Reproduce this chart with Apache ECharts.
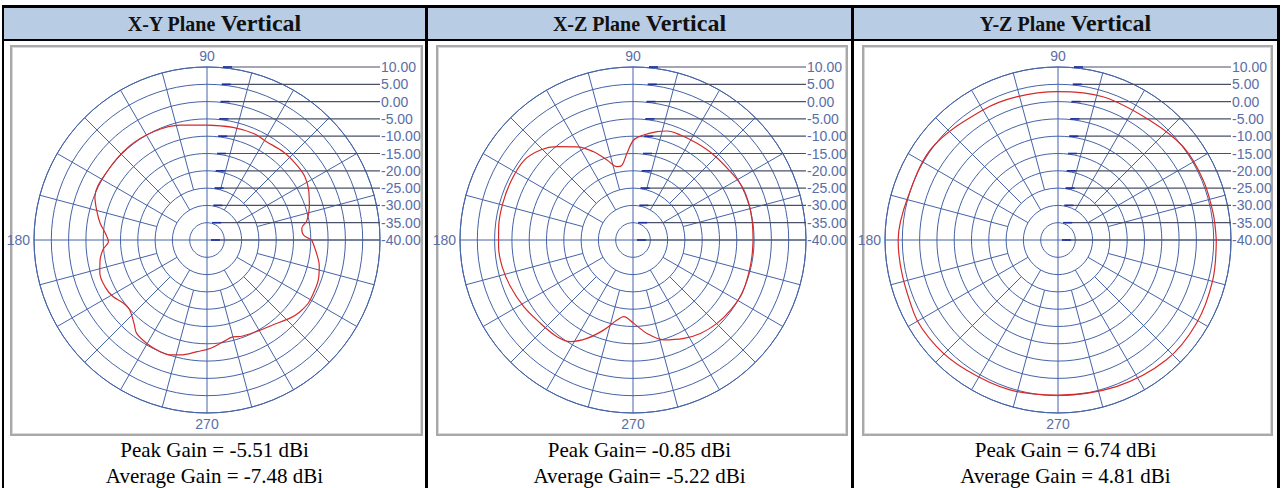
<!DOCTYPE html>
<html><head><meta charset="utf-8">
<script src="https://cdn.jsdelivr.net/npm/echarts@6/dist/echarts.min.js"></script>
<style>
html,body{margin:0;padding:0;background:#fff;}
body{width:1281px;height:488px;position:relative;overflow:hidden;}
.b{position:absolute;background:#000;}
.serif{font-family:'Liberation Serif','Times New Roman',Times,Tinos,'DejaVu Serif','Noto Serif',serif;}
.hdr{position:absolute;top:8px;height:31px;background:#b8cce4;font-weight:bold;text-align:center;line-height:31px;color:#111;font-size:24px;white-space:nowrap;}
.hdr .s{font-size:20px}
.frame{position:absolute;top:45px;height:387px;border:2px solid #a9a9a9;box-shadow:inset 0 0 0 1px #d8d8d8;background:#fff;}
.cap{position:absolute;top:437px;font-size:21px;line-height:26px;text-align:center;color:#000;white-space:nowrap;}
#chart{position:absolute;left:0;top:0;width:1281px;height:488px;}
</style></head>
<body>
<div class="b" style="left:2px;top:5px;width:1278px;height:3px"></div>
<div class="b" style="left:2px;top:39px;width:1278px;height:2px"></div>
<div class="b" style="left:2px;top:5px;width:2px;height:483px"></div>
<div class="b" style="left:425px;top:5px;width:3px;height:483px"></div>
<div class="b" style="left:851px;top:5px;width:3px;height:483px"></div>
<div class="b" style="left:1277px;top:5px;width:3px;height:483px"></div>
<div class="hdr serif" style="left:4px;width:421px"><span class="s">X-Y Plane</span> Vertical</div>
<div class="hdr serif" style="left:428px;width:423px"><span class="s">X-Z Plane</span> Vertical</div>
<div class="hdr serif" style="left:854px;width:423px"><span class="s">Y-Z Plane</span> Vertical</div>
<div class="frame" style="left:10px;width:409px"></div>
<div class="frame" style="left:436px;width:408px"></div>
<div class="frame" style="left:862px;width:407px"></div>
<div class="cap serif" style="left:4px;width:421px">Peak Gain = -5.51 dBi<br>Average Gain = -7.48 dBi</div>
<div class="cap serif" style="left:428px;width:423px">Peak Gain= -0.85 dBi<br>Average Gain= -5.22 dBi</div>
<div class="cap serif" style="left:854px;width:423px">Peak Gain = 6.74 dBi<br>Average Gain = 4.81 dBi</div>
<div id="chart"></div>
<script>
// ---- data ----
const ringValues = [10, 5, 0, -5, -10, -15, -20, -25, -30, -35, -40];
const ringLabels = ['10.00', '5.00', '0.00', '-5.00', '-10.00', '-15.00', '-20.00', '-25.00', '-30.00', '-35.00', '-40.00'];
const angleLabels = {90: '90', 180: '180', 270: '270'};

const xyAngle = [0, 3, 7, 11, 18, 26, 33, 40, 49, 59, 66, 77, 90, 103, 116, 130, 146, 159, 165, 171, 176, 181, 185, 191, 197, 205, 211, 217, 222, 229, 233, 240, 247, 252, 257, 265, 272, 279, 285, 289, 299, 308, 317, 322, 328, 333, 340, 347, 353, 360];
const xyGain = [-9.7, -12.1, -12.4, -10.6, -8.9, -7.3, -6.3, -6.2, -6.3, -6.8, -6.4, -6.6, -6.8, -5.9, -5.1, -4.8, -5.0, -5.3, -7.0, -8.7, -10.5, -11.5, -9.9, -8.5, -7.6, -7.6, -8.3, -9.7, -9.9, -7.9, -6.2, -5.4, -5.0, -5.1, -5.9, -7.6, -8.7, -10.2, -11.0, -10.5, -9.9, -8.9, -7.0, -6.1, -5.5, -5.6, -5.8, -6.7, -8.1, -9.7];

const xzAngle = [0, 9.5, 17.6, 26.1, 35.1, 46.5, 56.5, 65.7, 72.7, 77.5, 84.2, 89.6, 94, 98.3, 102.3, 108, 114, 121, 129.2, 135.8, 143.8, 153.9, 164.4, 174.3, 182.8, 191.5, 200.8, 211.4, 221.9, 231.8, 238.3, 244.9, 251.9, 258.7, 263.1, 270.5, 278.5, 287.1, 297.3, 305.8, 315.2, 324.3, 333.9, 343.9, 352, 360];
const xzGain = [-5.3, -5.1, -4.9, -4.9, -5.6, -6.1, -6.5, -6.7, -7.0, -7.9, -9.5, -11.1, -14.9, -18.1, -18.3, -15.7, -12.1, -8.6, -5.2, -2.7, -1.0, -0.85, -0.9, -1.0, -1.1, -1.4, -2.1, -3.0, -4.0, -4.45, -5.5, -8.6, -12.6, -16.4, -17.7, -15.9, -12.7, -9.8, -8.0, -6.7, -5.8, -5.3, -4.9, -5.2, -5.3, -5.3];

const yzAngle = [0, 9.8, 22.5, 36.7, 52.6, 72.6, 90, 106.2, 120, 143.3, 163.9, 180, 206.8, 221.2, 234.8, 252.2, 270, 291.7, 312, 329, 345.5, 360];
const yzGain = [5.75, 5.5, 5.4, 5.1, 3.6, 3.4, 2.9, 3.1, 3.4, 5.1, 5.1, 6.2, 6.7, 6.7, 6.0, 5.5, 4.8, 5.6, 6.7, 6.7, 6.2, 5.75];

// ---- style ----
const GRID = '#4563a8';
const LABEL = '#5a6ea6';
const LEADER = '#4a5068';
const CURVE = '#d42a2a';
const LABEL_FONT = '"Liberation Sans Narrow","Liberation Sans",Arial,sans-serif';
const centersX = [207, 633, 1058];
const CY = 240, R = 173;

const panels = [[xyAngle, xyGain], [xzAngle, xzGain], [yzAngle, yzGain]];

const spokeData = [];
for (let a = 0; a < 360; a += 15) {
  const start = (a % 90 === 0) ? -40 : (a % 30 === 0 ? -30 : -25);
  spokeData.push([start, a]);
}

const chart = echarts.init(document.getElementById('chart'), null, {renderer: 'svg'});
const option = {
  animation: false,
  polar: [], angleAxis: [], radiusAxis: [], series: []
};
panels.forEach((p, i) => {
  option.polar.push({center: [centersX[i], CY], radius: R});
  option.angleAxis.push({
    polarIndex: i, type: 'value', min: 0, max: 360, interval: 15,
    startAngle: 0, clockwise: false,
    axisLine: {show: true, lineStyle: {color: GRID, width: 1}},
    axisTick: {show: false}, splitLine: {show: false},
    axisLabel: {show: true, margin: 4, color: LABEL, fontSize: 14, fontFamily: LABEL_FONT,
      formatter: v => angleLabels[v] || ''}
  });
  option.radiusAxis.push({
    polarIndex: i, type: 'value', min: -40, max: 10, interval: 5,
    axisLine: {show: false}, axisTick: {show: false}, axisLabel: {show: false},
    splitLine: {show: true, lineStyle: {color: GRID, width: 1}}
  });
  option.series.push({
    type: 'custom', coordinateSystem: 'polar', polarIndex: i, silent: true, z: 1,
    data: spokeData,
    renderItem(params, api) {
      const s = api.value(0), a = api.value(1);
      const p0 = api.coord([s, a]), p1 = api.coord([10, a]);
      return {type: 'line', shape: {x1: p0[0], y1: p0[1], x2: p1[0], y2: p1[1]},
        style: {stroke: GRID, lineWidth: 1}};
    }
  });
  option.series.push({
    type: 'custom', coordinateSystem: 'polar', polarIndex: i, silent: true, z: 2,
    data: ringValues.map((v, k) => [v, 90, k]),
    renderItem(params, api) {
      const v = api.value(0), k = api.value(2);
      const p = api.coord([v, 90]);
      const right = api.coord([10, 0]);
      const off = 4 + (v + 40) / 50 * 12;
      const x0 = p[0] + off;
      return {type: 'group', children: [
        {type: 'line', shape: {x1: x0, y1: p[1], x2: right[0], y2: p[1]}, style: {stroke: LEADER, lineWidth: 1.2}},
        {type: 'line', shape: {x1: x0, y1: p[1], x2: x0 + 9, y2: p[1]}, style: {stroke: '#1f2fa0', lineWidth: 1.6}},
        {type: 'text', x: right[0] + 1, y: p[1], style: {text: ringLabels[k], fill: LABEL,
          font: '14px ' + LABEL_FONT, textAlign: 'left', textVerticalAlign: 'middle'}}
      ]};
    }
  });
  option.series.push({
    type: 'line', coordinateSystem: 'polar', polarIndex: i, z: 5,
    showSymbol: false, smooth: 0.35, silent: true,
    lineStyle: {color: CURVE, width: 1.2},
    data: p[0].map((a, k) => [p[1][k], a])
  });
});
chart.setOption(option);
</script>
</body></html>
